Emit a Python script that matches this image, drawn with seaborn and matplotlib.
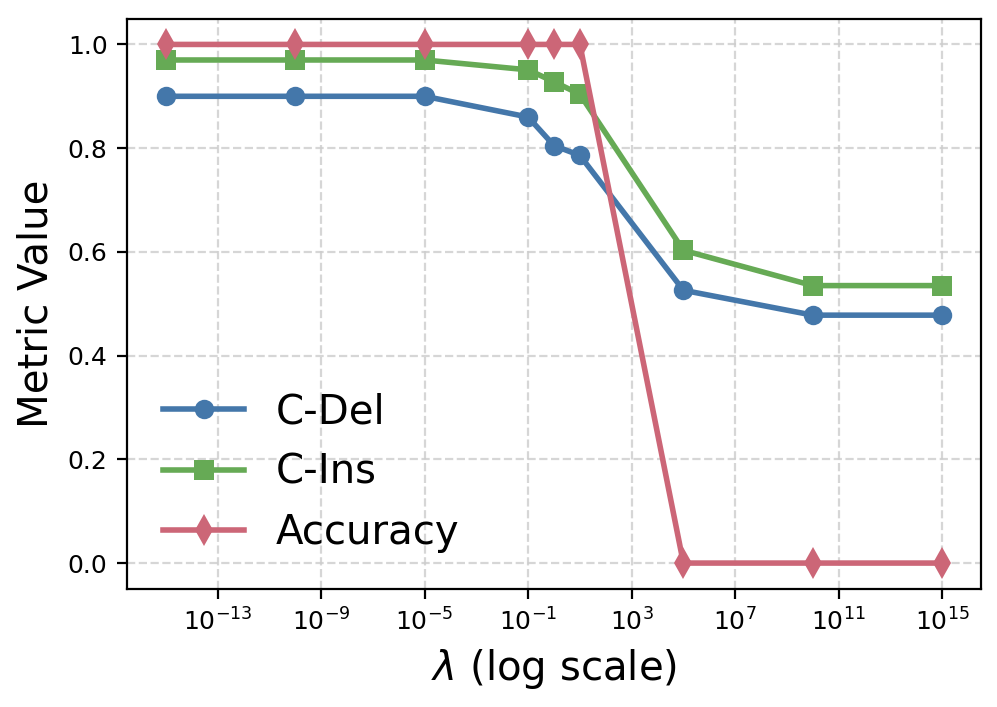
import numpy as np
import pandas as pd
import matplotlib
matplotlib.use("Agg")
import matplotlib.pyplot as plt
import seaborn as sns

lambdas = [1e-15, 1e-10, 1e-5, 1e-1, 1e0, 1e1, 1e5, 1e10, 1e15]
c_del = [0.90, 0.90, 0.90, 0.86, 0.805, 0.786, 0.526, 0.478, 0.478]
c_ins = [0.970, 0.970, 0.970, 0.951, 0.928, 0.904, 0.603, 0.535, 0.535]
accuracy = [1.0, 1.0, 1.0, 1.0, 1.0, 1.0, 0.0, 0.0, 0.0]
series_names = ["C-Del", "C-Ins", "Accuracy"]
colors = ["#4477AA", "#66AA55", "#CC6677"]
markers = ["o", "s", "d"]

plt.rcParams['font.family'] = ['DejaVu Sans']
fig = plt.figure(figsize=(9.97 / 2, 7.07 / 2), dpi=200)
ax = fig.add_axes([127 / 997, 1 - 589 / 707, (981 - 127) / 997, (589 - 18.5) / 707])

for name, vals, col, mk in zip(series_names, [c_del, c_ins, accuracy], colors, markers):
    df = pd.DataFrame({"lam": lambdas, "val": vals})
    sns.lineplot(data=df, x="lam", y="val", ax=ax, color=col, marker=mk,
                 markersize=8 if mk == "d" else 7, markeredgewidth=0, linewidth=2,
                 label=name)

ax.set_xscale("log")
ax.set_xticks([1e-13, 1e-9, 1e-5, 1e-1, 1e3, 1e7, 1e11, 1e15])
ax.minorticks_off()
ax.set_yticks([0.0, 0.2, 0.4, 0.6, 0.8, 1.0])
ax.tick_params(labelsize=9)
ax.grid(True, linestyle="--", color="#cccccc", alpha=0.8, linewidth=0.8)
ax.set_xlabel(r"$\lambda$ (log scale)", fontsize=14.5)
ax.set_ylabel("Metric Value", fontsize=14.5)
ax.legend(loc="lower left", fontsize=14.5, frameon=False, bbox_to_anchor=(0.0, 0.0),
          handlelength=2.0)
fig.savefig("out.png", dpi=200)
